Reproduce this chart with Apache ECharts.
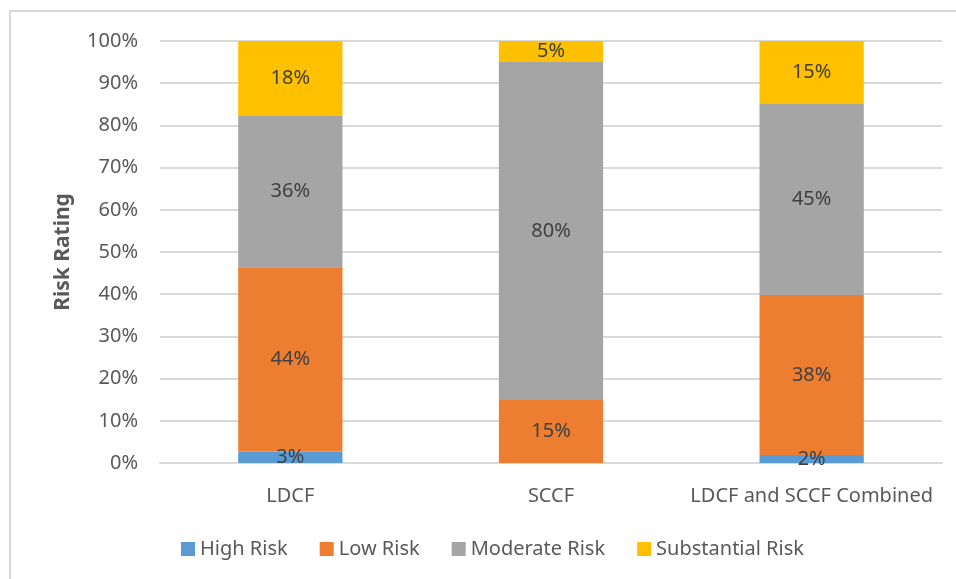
<!DOCTYPE html>
<html>
<head>
<meta charset="utf-8">
<script src="https://cdn.jsdelivr.net/npm/echarts@6/dist/echarts.min.js"></script>
<style>
html,body{margin:0;padding:0;background:#fff;}
#c{width:956px;height:579px;}
</style>
</head>
<body>
<div id="c"></div>
<script>
var categories = ['LDCF', 'SCCF', 'LDCF and SCCF Combined'];
var highRisk = [2.7, 0, 1.9];
var lowRisk = [43.7, 14.9, 37.9];
var moderateRisk = [35.8, 80.1, 45.3];
var substantialRisk = [17.8, 5.0, 14.9];
var yTicks = [0, 10, 20, 30, 40, 50, 60, 70, 80, 90, 100];

var FONT = '"Noto Sans", "Open Sans", sans-serif';
var chart = echarts.init(document.getElementById('c'), null, {renderer: 'canvas'});

function mk(name, data, color) {
  return {
    name: name,
    type: 'bar',
    stack: 'total',
    data: data,
    barWidth: '40%',
    itemStyle: {color: color},
    label: {
      show: true,
      position: 'inside',
      color: '#404040',
      fontFamily: FONT,
      fontSize: 20,
      formatter: function (p) { return p.value > 0 ? Math.round(p.value) + '%' : ''; }
    },
    emphasis: {disabled: true}
  };
}

chart.setOption({
  animation: false,
  textStyle: {fontFamily: FONT},
  graphic: [{
    type: 'rect',
    shape: {x: 10, y: 11, width: 1000, height: 1000},
    style: {fill: 'none', stroke: '#d9d9d9', lineWidth: 2},
    silent: true, z: -10
  }],
  grid: {left: 160, right: 14, top: 41, bottom: 116, containLabel: false},
  legend: {
    top: 534,
    left: 176,
    itemWidth: 14,
    itemHeight: 14,
    itemGap: 32,
    icon: 'rect',
    textStyle: {color: '#595959', fontSize: 20, fontFamily: FONT},
    data: ['High Risk', 'Low Risk', 'Moderate Risk', 'Substantial Risk']
  },
  xAxis: {
    type: 'category',
    data: categories,
    axisTick: {show: false},
    axisLine: {lineStyle: {color: '#d9d9d9', width: 2}},
    axisLabel: {color: '#595959', fontSize: 20, fontFamily: FONT, margin: 23, interval: 0}
  },
  yAxis: {
    type: 'value',
    min: yTicks[0],
    max: yTicks[yTicks.length - 1],
    interval: 10,
    name: 'Risk Rating',
    nameLocation: 'middle',
    nameRotate: 90,
    nameGap: 86,
    nameTextStyle: {color: '#595959', fontSize: 21, fontWeight: 'bold', fontFamily: FONT},
    axisLine: {show: false},
    axisTick: {show: false},
    splitLine: {lineStyle: {color: '#d9d9d9', width: 2}},
    axisLabel: {color: '#595959', fontSize: 20, fontFamily: FONT, margin: 22, formatter: '{value}%'}
  },
  series: [
    mk('High Risk', highRisk, '#5B9BD5'),
    mk('Low Risk', lowRisk, '#ED7D31'),
    mk('Moderate Risk', moderateRisk, '#A5A5A5'),
    mk('Substantial Risk', substantialRisk, '#FFC000')
  ]
});
</script>
</body>
</html>
